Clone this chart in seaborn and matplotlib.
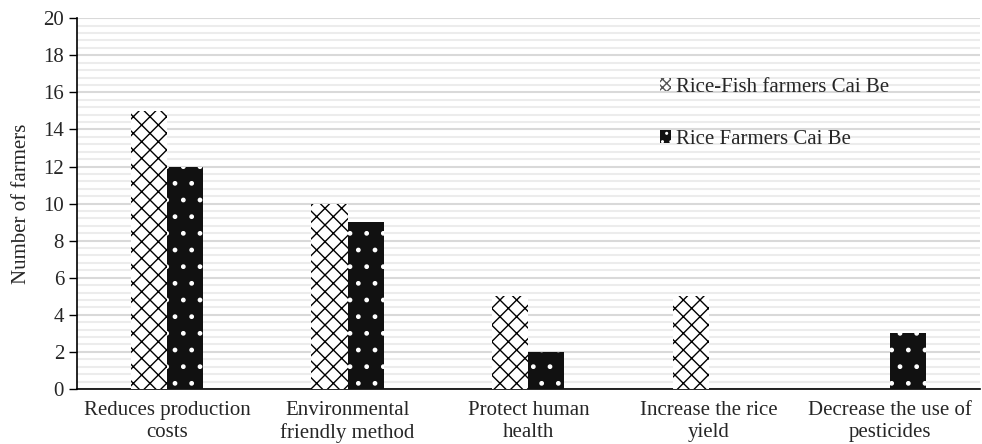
import pandas as pd
import seaborn as sns
import matplotlib.pyplot as plt
from matplotlib.patches import Patch
from matplotlib.ticker import MultipleLocator

sns.set_theme(style='white')
plt.rcParams['font.family'] = ['Liberation Serif', 'DejaVu Serif']
plt.rcParams['hatch.linewidth'] = 1.0

categories = ['Reduces production\ncosts', 'Environmental\nfriendly method',
              'Protect human\nhealth', 'Increase the rice\nyield',
              'Decrease the use of\npesticides']
series = ['Rice-Fish farmers Cai Be', 'Rice Farmers Cai Be']
rice_fish = [15, 10, 5, 5, 0]
rice = [12, 9, 2, 0, 3]

data = pd.DataFrame({
    'Reason': categories * 2,
    'Group': [series[0]] * 5 + [series[1]] * 5,
    'Farmers': rice_fish + rice,
})

fig, ax = plt.subplots(figsize=(9.82, 4.44), dpi=100)
fig.subplots_adjust(left=0.078, right=0.998, top=0.959, bottom=0.124)

sns.barplot(x='Reason', y='Farmers', hue='Group', data=data, ax=ax,
            width=0.4, order=categories, hue_order=series, legend=False)

# hatch styles: white with black crosses, black with white dots
styles = [dict(facecolor='white', edgecolor='black', hatch='xx'),
          dict(facecolor='#111111', edgecolor='white', hatch='.')]
for cont, st in zip(ax.containers, styles):
    for bar in cont:
        bar.set_facecolor(st['facecolor'])
        bar.set_edgecolor(st['edgecolor'])
        bar.set_hatch(st['hatch'])
        bar.set_linewidth(0)
        bar.set_zorder(3)

ax.set_ylim(0, 20)
ax.yaxis.set_major_locator(MultipleLocator(2))
ax.yaxis.set_minor_locator(MultipleLocator(0.4))
ax.grid(axis='y', which='minor', color='#ececec', linewidth=1.5, zorder=0)
ax.grid(axis='y', which='major', color='#d9d9d9', linewidth=1.5, zorder=0)
ax.set_axisbelow(True)

for s in ['top', 'right']:
    ax.spines[s].set_visible(False)
for s in ['left', 'bottom']:
    ax.spines[s].set_color('black')
    ax.spines[s].set_linewidth(1.2)

ax.tick_params(axis='y', which='major', direction='out', length=6,
               width=1, color='black', left=True, labelsize=15, pad=3)
ax.tick_params(axis='y', which='minor', length=0)
ax.tick_params(axis='x', length=0, labelsize=15, pad=9)
for lab in ax.get_xticklabels():
    lab.set_linespacing(1.2)

ax.set_xlabel('')
ax.set_ylabel('Number of farmers', fontsize=15, labelpad=9)

handles = [Patch(facecolor='white', edgecolor='#555555', hatch='xxxx', lw=0),
           Patch(facecolor='#111111', edgecolor='white', hatch='..', lw=0)]
ax.legend(handles, series, loc='upper left', bbox_to_anchor=(0.625, 0.89),
          frameon=False, fontsize=15, handlelength=0.55, handleheight=0.55,
          handletextpad=0.2, labelspacing=1.6)

fig.savefig('out.png', dpi=100)
